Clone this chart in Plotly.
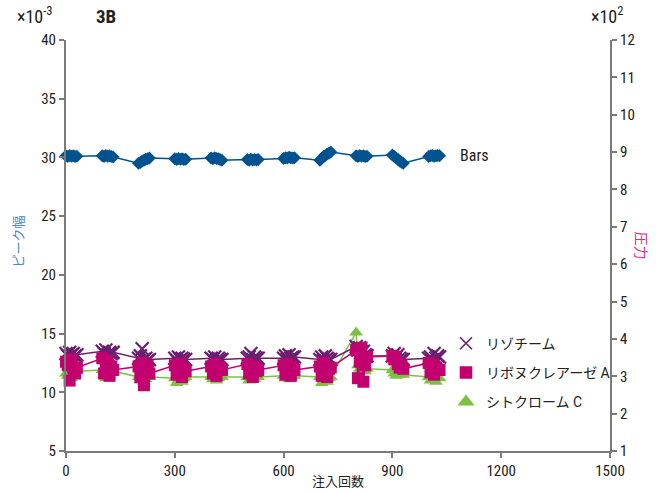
import plotly.graph_objects as go

# Injection numbers: eleven runs of seven injections
injections = [
    [0, 5, 10, 15, 20, 25, 30],
    [100, 105, 110, 115, 120, 125, 130],
    [200, 205, 210, 215, 220, 225, 230],
    [300, 305, 310, 315, 320, 325, 330],
    [400, 405, 410, 415, 420, 425, 430],
    [500, 505, 510, 515, 520, 525, 530],
    [600, 605, 610, 615, 620, 625, 630],
    [700, 705, 710, 715, 720, 725, 730],
    [800, 805, 810, 815, 820, 825, 830],
    [900, 905, 910, 915, 920, 925, 930],
    [1000, 1005, 1010, 1015, 1020, 1025, 1030],
]

# Peak width (x10^-3)
lysozyme = [
    [13.3, 13.1, 13.4, 13.2, 13.3, 13.1, 13.2],
    [13.5, 13.3, 13.6, 13.2, 13.4, 13.3, 13.4],
    [12.9, 13.1, 13.7, 12.8, 12.9, 12.7, 12.8],
    [12.9, 12.7, 13.0, 12.8, 12.9, 12.8, 12.8],
    [12.9, 12.8, 13.0, 12.7, 12.9, 12.8, 12.8],
    [12.9, 13.0, 13.3, 12.8, 13.0, 12.9, 12.9],
    [12.9, 13.1, 12.8, 13.2, 12.9, 13.0, 13.0],
    [12.8, 13.0, 12.7, 13.1, 12.9, 12.8, 12.8],
    [13.9, 13.6, 13.8, 13.4, 13.5, 13.2, 13.1],
    [13.1, 13.3, 13.0, 13.2, 12.9, 12.8, 12.8],
    [12.9, 13.0, 12.8, 13.3, 12.9, 13.1, 13.0],
]
ribonuclease_a = [
    [12.6, 12.3, 11.0, 12.8, 12.1, 11.6, 12.1],
    [12.9, 11.6, 12.4, 12.7, 11.4, 12.2, 11.9],
    [12.2, 11.3, 12.5, 10.6, 11.8, 12.3, 11.6],
    [12.3, 11.5, 11.9, 12.4, 11.3, 12.0, 11.8],
    [12.2, 11.6, 12.4, 11.4, 11.9, 12.1, 11.9],
    [12.4, 11.6, 12.0, 11.3, 12.2, 11.8, 11.9],
    [12.3, 11.5, 12.4, 11.8, 11.4, 12.1, 11.9],
    [12.2, 11.4, 12.5, 11.7, 11.3, 12.0, 12.1],
    [13.6, 11.2, 12.6, 13.8, 10.9, 12.3, 13.0],
    [13.1, 12.8, 13.0, 12.4, 12.1, 12.3, 12.0],
    [12.5, 11.7, 12.3, 11.5, 12.1, 11.9, 11.9],
]
cytochrome_c = [
    [11.6, 11.4, 11.7, 11.2, 11.5, 11.6, 11.8],
    [11.9, 11.5, 11.2, 11.6, 11.4, 11.7, 11.8],
    [11.3, 11.0, 11.2, 10.9, 11.1, 11.3, 11.3],
    [11.2, 10.8, 11.0, 11.3, 10.9, 11.2, 11.3],
    [11.3, 11.1, 11.4, 11.0, 11.2, 11.3, 11.3],
    [11.3, 11.0, 11.2, 11.4, 11.1, 11.3, 11.3],
    [11.4, 11.2, 11.5, 11.1, 11.3, 11.4, 11.4],
    [11.3, 10.8, 11.1, 11.3, 10.9, 11.2, 11.3],
    [15.1, 12.3, 12.0, 11.8, 11.9, 11.8, 12.0],
    [11.9, 11.6, 11.4, 11.7, 11.5, 11.6, 11.5],
    [11.3, 11.0, 11.4, 11.2, 10.9, 11.3, 11.2],
]

# Column pressure (x10^2 bar)
pressure = [
    [8.90, 8.88, 8.91, 8.89, 8.90, 8.88, 8.89],
    [8.90, 8.88, 8.91, 8.89, 8.90, 8.88, 8.87],
    [8.70, 8.72, 8.76, 8.78, 8.81, 8.82, 8.84],
    [8.82, 8.80, 8.83, 8.81, 8.82, 8.80, 8.81],
    [8.84, 8.82, 8.85, 8.83, 8.82, 8.80, 8.78],
    [8.80, 8.78, 8.81, 8.79, 8.80, 8.79, 8.80],
    [8.83, 8.85, 8.84, 8.86, 8.85, 8.84, 8.85],
    [8.78, 8.83, 8.88, 8.91, 8.95, 8.97, 9.00],
    [8.90, 8.88, 8.91, 8.89, 8.90, 8.88, 8.89],
    [8.92, 8.89, 8.84, 8.81, 8.76, 8.73, 8.70],
    [8.88, 8.90, 8.91, 8.89, 8.90, 8.91, 8.90],
]

x_ticks = [0, 300, 600, 900, 1200, 1500]

PURPLE = "#6b1f6f"
MAGENTA = "#c2006f"
GREEN = "#7cc242"
BLUE = "#00538f"
TEXT = "#222222"

FONT = "Liberation Sans Narrow, Roboto Condensed, Roboto, sans-serif"
JP = "Roboto, Noto Sans CJK JP, sans-serif"


def flat(rows):
    return [v for row in rows for v in row]


xs = flat(injections)

fig = go.Figure()

# Pressure on the right axis
fig.add_trace(go.Scatter(
    x=xs, y=flat(pressure), yaxis="y2", mode="lines+markers",
    line=dict(color=BLUE, width=1.5),
    marker=dict(symbol="diamond", size=10, color=BLUE),
    cliponaxis=False, showlegend=False,
))

# Peak-width series (green, purple, then magenta so the squares sit on top)
fig.add_trace(go.Scatter(
    x=xs, y=flat(cytochrome_c), mode="lines+markers",
    line=dict(color=GREEN, width=1.5),
    marker=dict(symbol="triangle-up", size=12, color=GREEN),
    cliponaxis=False, showlegend=False,
))
fig.add_trace(go.Scatter(
    x=xs, y=flat(lysozyme), mode="lines+markers",
    line=dict(color=PURPLE, width=1.5),
    marker=dict(symbol="x-thin", size=13, color=PURPLE,
                line=dict(color=PURPLE, width=2.2)),
    cliponaxis=False, showlegend=False,
))
fig.add_trace(go.Scatter(
    x=xs, y=flat(ribonuclease_a), mode="lines+markers",
    line=dict(color=MAGENTA, width=1.5),
    marker=dict(symbol="square", size=12, color=MAGENTA),
    cliponaxis=False, showlegend=False,
))

# Legend entries (marker only)
legend_items = [
    ("リゾチーム", "x-thin", PURPLE, 12),
    ("リボヌクレアーゼ A", "square", MAGENTA, 11),
    ("シトクローム C", "triangle-up", GREEN, 12),
]
for i, (name, sym, col, sz) in enumerate(legend_items):
    fig.add_trace(go.Scatter(
        x=[None], y=[None], mode="markers", name=name,
        legendgroup=name, legendrank=i + 1,
        marker=dict(symbol=sym, size=sz, color=col, line=dict(color=col, width=1.6)),
    ))

axis_common = dict(
    showgrid=False, zeroline=False, showline=True,
    linecolor="#7a7a7a", linewidth=2,
    ticks="outside", ticklen=5, tickwidth=1.5, tickcolor="#7a7a7a",
    tickfont=dict(family=FONT, size=15, color=TEXT),
)

fig.update_layout(
    width=665, height=492,
    margin=dict(l=66, r=55, t=40, b=38),
    paper_bgcolor="white", plot_bgcolor="white",
    font=dict(family=FONT, size=15, color=TEXT),
    xaxis=dict(range=[0, 1500], tickvals=x_ticks, **axis_common),
    yaxis=dict(range=[5, 40], dtick=5, **axis_common),
    yaxis2=dict(range=[1, 12], dtick=1, overlaying="y", side="right", **axis_common),
    legend=dict(
        x=0.6985, y=0.30, xanchor="left", yanchor="top",
        bgcolor="rgba(0,0,0,0)", tracegroupgap=8,
        font=dict(family=JP, size=14, color=TEXT),
        itemwidth=30,
    ),
    annotations=[
        dict(text="Bars", x=1080, y=8.9, xref="x", yref="y2",
             xanchor="left", yanchor="middle", showarrow=False,
             font=dict(family=FONT, size=16, color=TEXT)),
        dict(text="×10<sup>-3</sup>", x=-0.02, y=1.06, xref="paper", yref="paper",
             xanchor="right", yanchor="middle", showarrow=False,
             font=dict(family=FONT, size=18, color=TEXT)),
        dict(text="<b>3B</b>", x=0.052, y=1.058, xref="paper", yref="paper",
             xanchor="left", yanchor="middle", showarrow=False,
             font=dict(family=FONT, size=19, color=TEXT)),
        dict(text="×10<sup>2</sup>", x=0.962, y=1.06, xref="paper", yref="paper",
             xanchor="left", yanchor="middle", showarrow=False,
             font=dict(family=FONT, size=18, color=TEXT)),
        dict(text="注入回数", x=0.5, y=-0.0725, xref="paper", yref="paper",
             xanchor="center", yanchor="middle", showarrow=False,
             font=dict(family="Noto Sans CJK JP", size=13, color=TEXT)),
        dict(text="ピーク幅", x=-0.09, y=0.51, xref="paper", yref="paper",
             xanchor="center", yanchor="middle", showarrow=False, textangle=-90,
             font=dict(family="Noto Sans CJK JP", size=13, color="#4f88c6")),
        dict(text="圧力", x=1.059, y=0.5, xref="paper", yref="paper",
             xanchor="center", yanchor="middle", showarrow=False, textangle=90,
             font=dict(family="Noto Sans CJK JP", size=14, color="#d62e8c")),
    ],
)

fig.write_html("out.html")
